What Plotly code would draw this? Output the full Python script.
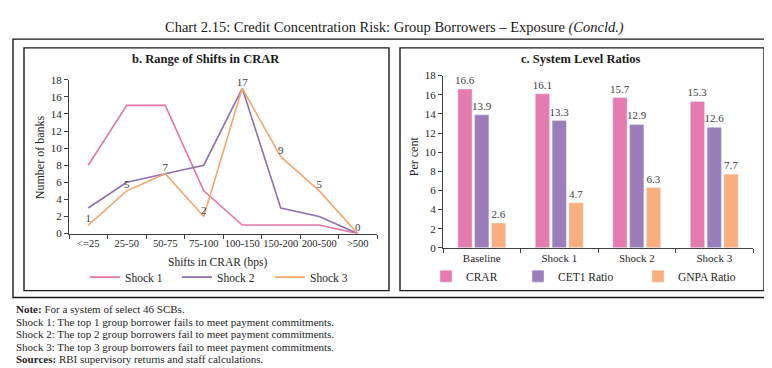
import plotly.graph_objects as go

# ---------------- data ----------------
shift_bins = ["<=25", "25-50", "50-75", "75-100", "100-150", "150-200", "200-500", ">500"]
shock1 = [8, 15, 15, 5, 1, 1, 1, 0]
shock2 = [3, 6, 7, 8, 17, 3, 2, 0]
shock3 = [1, 5, 7, 2, 17, 9, 5, 0]

scenarios = ["Baseline", "Shock 1", "Shock 2", "Shock 3"]
crar = [16.6, 16.1, 15.7, 15.3]
cet1 = [13.9, 13.3, 12.9, 12.6]
gnpa = [2.6, 4.7, 6.3, 7.7]

y_ticks = [0, 2, 4, 6, 8, 10, 12, 14, 16, 18]

# ---------------- style ----------------
W, H = 772, 368
FONT = "Liberation Serif"
TXT = "#262626"
AX = "#404040"
C_S1 = "#E774A6"
C_S2 = "#8F70B3"
C_S3 = "#F7A76E"
C_CRAR = "#E57BAF"
C_CET1 = "#9B7DBA"
C_GNPA = "#F9AE7D"


def px(x):
    return x / W


def py(y):
    return 1 - y / H


fig = go.Figure()

# left panel: lines
fig.add_trace(go.Scatter(x=shift_bins, y=shock1, mode="lines", name="Shock 1",
                         line=dict(color=C_S1, width=1.6), xaxis="x", yaxis="y",
                         legend="legend", showlegend=True))
fig.add_trace(go.Scatter(x=shift_bins, y=shock2, mode="lines", name="Shock 2",
                         line=dict(color=C_S2, width=1.6), xaxis="x", yaxis="y",
                         legend="legend2", showlegend=True))
fig.add_trace(go.Scatter(x=shift_bins, y=shock3, mode="lines+text", name="Shock 3",
                         text=[str(v) for v in shock3], textposition="top center",
                         textfont=dict(size=11, color=AX, family=FONT),
                         line=dict(color=C_S3, width=1.6), xaxis="x", yaxis="y",
                         legend="legend3", showlegend=True, cliponaxis=False))

# right panel: bars
for name, vals, col, lg in [("CRAR", crar, C_CRAR, "legend4"),
                            ("CET1 Ratio", cet1, C_CET1, "legend5"),
                            ("GNPA Ratio", gnpa, C_GNPA, "legend6")]:
    fig.add_trace(go.Bar(x=scenarios, y=vals, name=name, marker=dict(color=col),
                         text=[f"{v:.1f}" for v in vals], textposition="outside",
                         constraintext="none",
                         textfont=dict(size=11, color=AX, family=FONT),
                         cliponaxis=False, xaxis="x2", yaxis="y2", legend=lg,
                         showlegend=True))

axis_common = dict(showline=True, linecolor=AX, linewidth=1, ticks="outside",
                   ticklen=4, tickcolor=AX, showgrid=False, zeroline=False)

fig.update_layout(
    width=W, height=H,
    margin=dict(l=0, r=0, t=0, b=0),
    paper_bgcolor="white", plot_bgcolor="white",
    showlegend=True,
    font=dict(family=FONT, size=11, color=TXT),
    barmode="group", bargap=0.35, bargroupgap=0.15,
    xaxis=dict(domain=[px(61), px(369)], type="category", categoryorder="array",
               categoryarray=shift_bins, range=[-0.5, 7.5], tickson="boundaries",
               tickangle=0, tickfont=dict(size=10.5, color=TXT, family=FONT),
               anchor="y", **axis_common),
    yaxis=dict(domain=[py(227), py(68)], range=[0, 18], tickvals=y_ticks,
               tickfont=dict(size=11, color=TXT, family=FONT),
               anchor="x", **axis_common),
    xaxis2=dict(domain=[px(435), px(745)], type="category", categoryorder="array",
                categoryarray=scenarios, range=[-0.5, 3.5], tickson="boundaries",
                tickangle=0, tickfont=dict(size=11, color=TXT, family=FONT),
                anchor="y2", **axis_common),
    yaxis2=dict(domain=[py(241.7), py(63.7)], range=[0, 18], tickvals=y_ticks,
                tickfont=dict(size=11, color=TXT, family=FONT),
                anchor="x2", **axis_common),
)

leg = dict(orientation="h", yanchor="middle", xanchor="left", borderwidth=0,
           bgcolor="rgba(0,0,0,0)", font=dict(size=11.5, color=TXT, family=FONT))
fig.update_layout(
    legend=dict(x=px(77), y=py(272), **leg),
    legend2=dict(x=px(169), y=py(272), **leg),
    legend3=dict(x=px(262), y=py(272), **leg),
    legend4=dict(x=px(418), y=py(271), **leg),
    legend5=dict(x=px(510), y=py(271), **leg),
    legend6=dict(x=px(630), y=py(271), **leg),
)

# frames
frame = dict(type="rect", xref="paper", yref="paper", line=dict(color="#1a1a1a", width=1.4),
             fillcolor="rgba(0,0,0,0)", layer="above")
fig.add_shape(x0=px(5), x1=px(764), y0=py(293), y1=py(26), **frame)
fig.add_shape(x0=px(16), x1=px(381), y0=py(286), y1=py(35), **frame)
fig.add_shape(x0=px(392), x1=px(756), y0=py(286), y1=py(35), **frame)

# texts
ann = []
ann.append(dict(text="Chart 2.15: Credit Concentration Risk: Group Borrowers – Exposure <i>(Concld.)</i>",
                x=px(386), y=py(14), font=dict(size=14.5, color="#1a1a1a")))
ann.append(dict(text="<b>b. Range of Shifts in CRAR</b>", x=px(198), y=py(47),
                font=dict(size=12.5, color="#1a1a1a")))
ann.append(dict(text="<b>c. System Level Ratios</b>", x=px(573), y=py(47),
                font=dict(size=12.5, color="#1a1a1a")))
ann.append(dict(text="Number of banks", x=px(32), y=py(148), textangle=-90,
                font=dict(size=12)))
ann.append(dict(text="Per cent", x=px(406), y=py(147), textangle=-90,
                font=dict(size=12)))
ann.append(dict(text="Shifts in CRAR (bps)", x=px(210), y=py(257), font=dict(size=11.5)))

notes = ["<b>Note:</b> For a system of select 46 SCBs.",
         "Shock 1: The top 1 group borrower fails to meet payment commitments.",
         "Shock 2: The top 2 group borrowers fail to meet payment commitments.",
         "Shock 3: The top 3 group borrowers fail to meet payment commitments.",
         "<b>Sources:</b> RBI supervisory returns and staff calculations."]
for i, t in enumerate(notes):
    ann.append(dict(text=t, x=px(6), y=py(305 + 13 * i), xanchor="left",
                    font=dict(size=11)))

for a in ann:
    a.setdefault("xanchor", "center")
    a.update(xref="paper", yref="paper", yanchor="middle", showarrow=False)
    fig.add_annotation(**a)

fig.write_html("out.html")
